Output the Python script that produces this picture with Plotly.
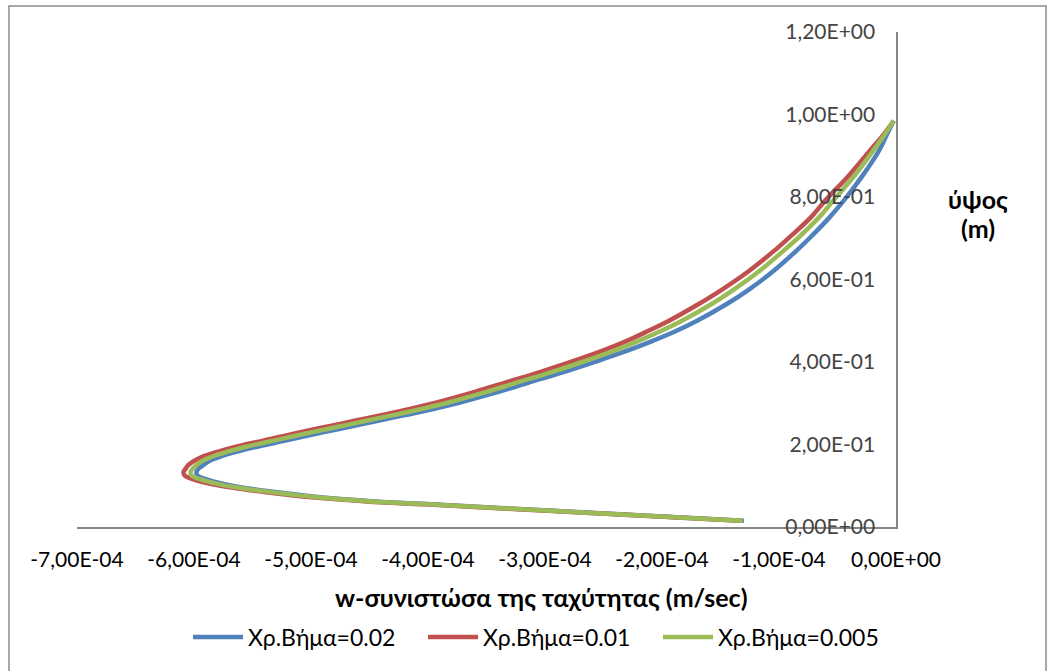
import plotly.graph_objects as go

# Height above the bottom (m), shared by the three runs
height_m = [0.015, 0.025, 0.04, 0.055, 0.062, 0.072, 0.085, 0.094, 0.104, 0.116,
            0.125, 0.133, 0.142, 0.15, 0.16, 0.17, 0.182, 0.194, 0.21, 0.23,
            0.25, 0.264, 0.28, 0.30, 0.325, 0.35, 0.375, 0.40, 0.425, 0.45,
            0.475, 0.50, 0.54, 0.575, 0.62, 0.67, 0.70, 0.75, 0.79, 0.85,
            0.91, 0.95, 0.985]

# w-velocity component (m/sec) for each time step
w_step_002 = [-1.30e-4, -1.95e-4, -2.97e-4, -3.97e-4, -4.45e-4, -4.92e-4, -5.31e-4, -5.55e-4, -5.74e-4, -5.90e-4,
              -5.97e-4, -5.98e-4, -5.96e-4, -5.92e-4, -5.87e-4, -5.78e-4, -5.64e-4, -5.47e-4, -5.21e-4, -4.89e-4,
              -4.55e-4, -4.32e-4, -4.05e-4, -3.75e-4, -3.43e-4, -3.14e-4, -2.85e-4, -2.58e-4, -2.32e-4, -2.09e-4,
              -1.88e-4, -1.70e-4, -1.45e-4, -1.26e-4, -1.05e-4, -0.85e-4, -0.74e-4, -0.57e-4, -0.45e-4, -0.29e-4,
              -0.15e-4, -0.08e-4, -0.02e-4]
w_step_001 = [-1.33e-4, -1.99e-4, -3.02e-4, -4.03e-4, -4.52e-4, -4.99e-4, -5.40e-4, -5.64e-4, -5.85e-4, -6.01e-4,
              -6.08e-4, -6.09e-4, -6.07e-4, -6.05e-4, -6.00e-4, -5.93e-4, -5.80e-4, -5.65e-4, -5.40e-4, -5.09e-4,
              -4.75e-4, -4.52e-4, -4.25e-4, -3.95e-4, -3.63e-4, -3.34e-4, -3.05e-4, -2.78e-4, -2.53e-4, -2.31e-4,
              -2.12e-4, -1.94e-4, -1.69e-4, -1.49e-4, -1.26e-4, -1.04e-4, -0.92e-4, -0.73e-4, -0.61e-4, -0.41e-4,
              -0.23e-4, -0.11e-4, -0.02e-4]
w_step_0005 = [-1.31e-4, -1.97e-4, -2.99e-4, -4.00e-4, -4.48e-4, -4.95e-4, -5.35e-4, -5.59e-4, -5.79e-4, -5.95e-4,
               -6.02e-4, -6.03e-4, -6.01e-4, -5.98e-4, -5.93e-4, -5.85e-4, -5.72e-4, -5.56e-4, -5.31e-4, -4.99e-4,
               -4.65e-4, -4.42e-4, -4.15e-4, -3.85e-4, -3.53e-4, -3.24e-4, -2.95e-4, -2.68e-4, -2.43e-4, -2.21e-4,
               -2.01e-4, -1.83e-4, -1.58e-4, -1.39e-4, -1.17e-4, -0.96e-4, -0.84e-4, -0.66e-4, -0.54e-4, -0.36e-4,
               -0.20e-4, -0.10e-4, -0.02e-4]

series_names = ["Χρ.Βήμα=0.02", "Χρ.Βήμα=0.01", "Χρ.Βήμα=0.005"]
series_colors = ["#4F81BD", "#C0504D", "#9BBB59"]

x_tickvals = [-7e-4, -6e-4, -5e-4, -4e-4, -3e-4, -2e-4, -1e-4, 0.0]
x_ticktext = ["-7,00E-04", "-6,00E-04", "-5,00E-04", "-4,00E-04", "-3,00E-04",
              "-2,00E-04", "-1,00E-04", "0,00E+00"]
y_tickvals = [0.0, 0.2, 0.4, 0.6, 0.8, 1.0, 1.2]
y_ticktext = ["0,00E+00", "2,00E-01", "4,00E-01", "6,00E-01", "8,00E-01",
              "1,00E+00", "1,20E+00"]

x_title = "w-συνιστώσα της ταχύτητας (m/sec)"
y_title_lines = ["ύψος", "(m)"]

W, H = 1050, 671
L, R, T, B = 77, 154, 32, 144
PW, PH = W - L - R, H - T - B
FONT = "Lato, 'Noto Sans', sans-serif"


def paper_x(px):
    return (px - L) / PW


def paper_y(py):
    return (H - B - py) / PH


fig = go.Figure()
for xs, name, color in zip([w_step_002, w_step_001, w_step_0005], series_names, series_colors):
    fig.add_trace(go.Scatter(
        x=xs, y=height_m, name=name, mode="lines",
        line=dict(color=color, width=4.5, shape="spline", smoothing=1.0),
    ))

fig.update_layout(
    width=W, height=H, autosize=False,
    margin=dict(l=L, r=R, t=T, b=B, pad=0),
    paper_bgcolor="white", plot_bgcolor="white",
    font=dict(family=FONT, size=20, color="black"),
    showlegend=True,
    legend=dict(orientation="h", x=paper_x(188), xanchor="left",
                y=paper_y(637), yanchor="middle",
                font=dict(size=23), bgcolor="rgba(0,0,0,0)",
                itemwidth=50, entrywidth=170, entrywidthmode="pixels",
                tracegroupgap=0),
    xaxis=dict(range=[-7e-4, 0], tickvals=x_tickvals, ticktext=x_ticktext,
               showline=True, linecolor="#868686", linewidth=2,
               showgrid=False, zeroline=False, ticks="",
               ticklabelstandoff=13, tickfont=dict(size=21)),
    yaxis=dict(range=[0, 1.2], tickvals=y_tickvals, ticktext=y_ticktext,
               side="right", ticklabelposition="inside", ticklabeloverflow="allow",
               showline=True, linecolor="#868686", linewidth=2,
               showgrid=False, zeroline=False, ticks="",
               ticklabelstandoff=22, tickfont=dict(size=21)),
    annotations=[
        dict(text=f"<b>{x_title}</b>", xref="paper", yref="paper",
             x=paper_x(541), y=paper_y(597), xanchor="center", yanchor="middle",
             showarrow=False, font=dict(size=25)),
        dict(text=f"<b>{y_title_lines[0]}</b>", xref="paper", yref="paper",
             x=paper_x(978), y=paper_y(199), xanchor="center", yanchor="middle",
             showarrow=False, font=dict(size=25)),
        dict(text=f"<b>{y_title_lines[1]}</b>", xref="paper", yref="paper",
             x=paper_x(978), y=paper_y(228), xanchor="center", yanchor="middle",
             showarrow=False, font=dict(size=25)),
    ],
    shapes=[
        dict(type="rect", xref="paper", yref="paper",
             x0=paper_x(9), x1=paper_x(1046), y0=paper_y(690), y1=paper_y(6),
             line=dict(color="#8a8a8a", width=1.5), fillcolor="rgba(0,0,0,0)",
             layer="below"),
    ],
)

fig.write_html("out.html")
